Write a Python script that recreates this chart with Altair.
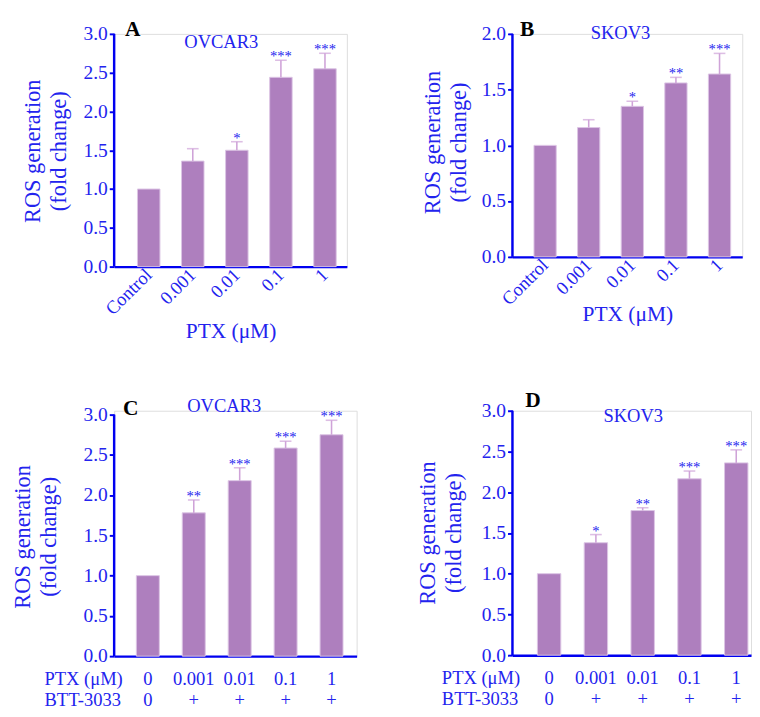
import altair as alt
import pandas as pd

FONT = "Liberation Serif"
BLUE = "#2323ee"
AXIS = "#0000f0"
BAR = "#AE7FBE"
BAR_EDGE = "#DCC4E4"
ERR = "#CFA3D8"

# ---- data ----
ab_cats = ["Control", "0.001", "0.01", "0.1", "1"]
cd_ptx = ["0", "0.001", "0.01", "0.1", "1"]
cd_btt = ["0", "+", "+", "+", "+"]

A_mean = [1.00, 1.36, 1.50, 2.44, 2.55]
A_err = [0.00, 0.16, 0.11, 0.22, 0.20]
A_stars = ["", "", "*", "***", "***"]

B_mean = [1.00, 1.16, 1.35, 1.56, 1.64]
B_err = [0.00, 0.07, 0.045, 0.05, 0.185]
B_stars = ["", "", "*", "**", "***"]

C_mean = [1.00, 1.78, 2.18, 2.585, 2.75]
C_err = [0.00, 0.16, 0.16, 0.085, 0.18]
C_stars = ["", "**", "***", "***", "***"]

D_mean = [1.00, 1.38, 1.775, 2.165, 2.36]
D_err = [0.00, 0.10, 0.035, 0.095, 0.16]
D_stars = ["", "*", "**", "***", "***"]

cd_keys = [p + "|" + b for p, b in zip(cd_ptx, cd_btt)]


def y_axis(ymax, title_x, title_y):
    vals = [round(v * 0.5, 1) for v in range(int(ymax / 0.5) + 1)]
    return alt.Axis(
        title=["ROS generation", "(fold change)"],
        titleFont=FONT, titleFontSize=23, titleColor=BLUE, titleFontWeight="normal",
        titleX=title_x, titleY=title_y, titleAngle=270, titleAlign="center",
        titleBaseline="alphabetic", titleLineHeight=27,
        values=vals, format=".1f",
        labelFont=FONT, labelFontSize=20, labelColor=BLUE, labelPadding=2,
        tickSize=5, tickWidth=2, tickColor=AXIS,
        domain=False, grid=False,
    )


def x_axis_ab(title_y):
    return alt.Axis(
        title="PTX (μM)", titleFont=FONT, titleFontSize=22, titleColor=BLUE,
        titleFontWeight="normal", titleY=title_y, titleBaseline="middle",
        labelAngle=-45, labelAlign="right", labelBaseline="middle",
        labelFont=FONT, labelFontSize=19, labelColor=BLUE, labelPadding=5,
        ticks=False, tickSize=0, domainColor=AXIS, domainWidth=2.5, grid=False,
    )


def x_axis_cd(title_x):
    return alt.Axis(
        title=["PTX (μM)", "BTT-3033"], titleFont=FONT, titleFontSize=19,
        titleColor=BLUE, titleFontWeight="normal",
        titleX=title_x, titleY=29, titleAlign="left", titleBaseline="alphabetic",
        titleLineHeight=22,
        labelExpr="split(datum.label, '|')", labelAngle=0, labelLineHeight=22,
        labelFont=FONT, labelFontSize=19, labelColor=BLUE, labelPadding=14,
        ticks=False, tickSize=0, domainColor=AXIS, domainWidth=2.5, grid=False,
    )


def panel(keys, means, errs, stars, ymax, dom_top, width, height, pi, po, align,
          xaxis, yaxis, letter, lx, ly, cell, cx, cy):
    df = pd.DataFrame({"k": keys, "mean": means, "err": errs, "stars": stars})
    df["top"] = df["mean"] + df["err"]
    xs = alt.Scale(paddingInner=pi, paddingOuter=po, align=align)
    ys = alt.Scale(domain=[0, dom_top], nice=False)
    X = alt.X("k:N", sort=keys, scale=xs, axis=xaxis)
    base = alt.Chart(df)
    bars = base.mark_bar(color=BAR, stroke=BAR_EDGE, strokeWidth=1).encode(
        x=X, y=alt.Y("mean:Q", scale=ys, axis=yaxis))
    eb = base.transform_filter("datum.err > 0")
    rule = eb.mark_rule(color=ERR, strokeWidth=1.6).encode(
        x=X, y=alt.Y("mean:Q", scale=ys, axis=yaxis), y2="top:Q")
    cap = eb.mark_tick(color=ERR, thickness=1.6, size=12).encode(
        x=X, y=alt.Y("top:Q", scale=ys, axis=yaxis))
    star = base.mark_text(font=FONT, fontSize=15, color=BLUE, baseline="alphabetic",
                          dy=1).encode(
        x=X, y=alt.Y("top:Q", scale=ys, axis=yaxis), text="stars:N")
    # y axis line, from 0 to the top tick value
    yline = alt.Chart(pd.DataFrame({"lo": [0.0], "hi": [ymax]})).mark_rule(
        color=AXIS, strokeWidth=2.5).encode(
        x=alt.value(0), y=alt.Y("lo:Q", scale=ys, axis=yaxis), y2="hi:Q")
    let = alt.Chart(pd.DataFrame({"t": [letter]})).mark_text(
        font=FONT, fontSize=22, fontWeight="bold", color="black",
        align="center", baseline="middle").encode(
        x=alt.value(lx), y=alt.value(ly), text="t:N")
    ttl = alt.Chart(pd.DataFrame({"t": [cell]})).mark_text(
        font=FONT, fontSize=19, color=BLUE,
        align="center", baseline="middle").encode(
        x=alt.value(cx), y=alt.value(cy), text="t:N")
    return alt.layer(bars, rule, cap, star, yline, let, ttl).properties(
        width=width, height=height)


# row 1: common top at the 3.0 / 2.0 ticks
pA = panel(ab_cats, A_mean, A_err, A_stars, 3.0, 3.0, 239, 239,
           0.49, 0.386, 0.686, x_axis_ab(66), y_axis(3.0, -77, 120),
           "A", 19, -5, "OVCAR3", 110, 8)
pB = panel(ab_cats, B_mean, B_err, B_stars, 2.0, 2.0, 236, 229,
           0.49, 0.38, 0.65, x_axis_ab(58), y_axis(2.0, -75, 111),
           "B", 15, -5, "SKOV3", 111, -1)
# row 2: common top at the D top
pC = panel(cd_keys, C_mean, C_err, C_stars, 3.0, 3.0 * 252 / 248, 249, 252,
           0.5, 0.39, 0.62, x_axis_cd(-72), y_axis(3.0, -87, 129),
           "C", 17, -3, "OVCAR3", 113, -5)
pD = panel(cd_keys, D_mean, D_err, D_stars, 3.0, 3.0, 245, 251,
           0.5, 0.30, 0.89, x_axis_cd(-73), y_axis(3.0, -80, 125),
           "D", 21, -11, "SKOV3", 124, 6)

row1 = alt.hconcat(pA, pB, spacing=170, bounds="flush")
row2 = alt.hconcat(pC, pD, spacing=160, bounds="flush")

chart = alt.vconcat(row1, row2, spacing=387, bounds="flush").properties(
    padding={"left": 3, "top": 0, "right": 0, "bottom": 0}
).configure_view(stroke=None).configure(background="white")

chart.save("out.html", embed_options={"renderer": "svg", "actions": False})
